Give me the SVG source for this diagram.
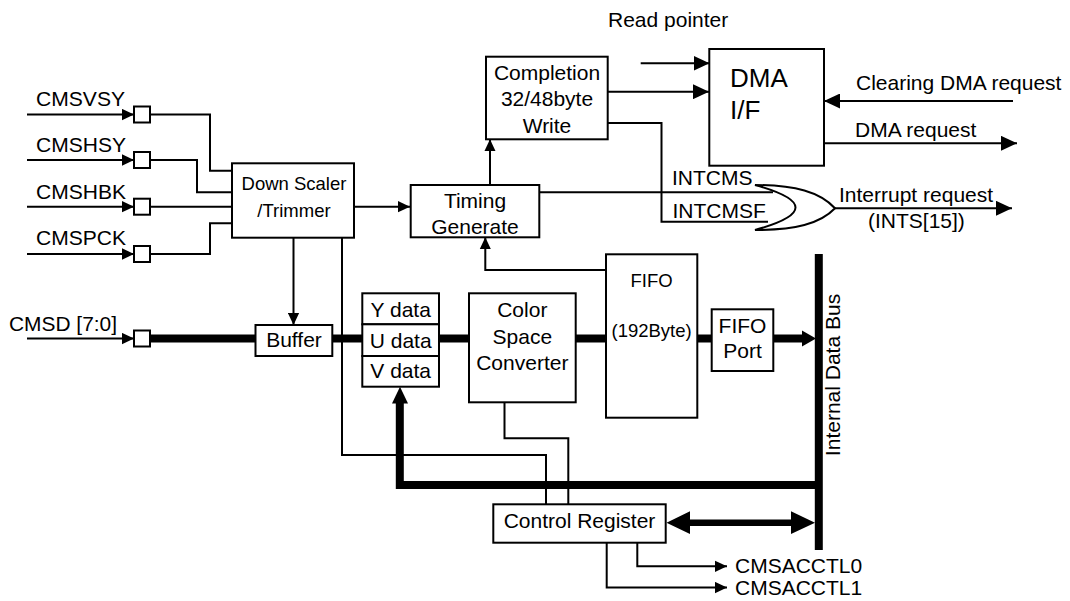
<svg xmlns="http://www.w3.org/2000/svg" width="1070" height="601" viewBox="0 0 1070 601">
<style>
.box{fill:#fff;stroke:#000;stroke-width:2}
.ln{fill:none;stroke:#000;stroke-width:2}
.bus{fill:none;stroke:#000;stroke-width:8}
text{font-family:"Liberation Sans",Arial,sans-serif;font-size:21px;fill:#000}
.m{text-anchor:middle}
.s{font-size:18.5px}
.big{font-size:26px}
</style>
<defs>
<marker id="a" markerUnits="userSpaceOnUse" markerWidth="12" markerHeight="12" refX="10" refY="5" orient="auto" viewBox="0 0 10 10"><path d="M0,0.3L10,5L0,9.7Z" fill="#000"/></marker>
<marker id="A" markerUnits="userSpaceOnUse" markerWidth="16" markerHeight="15" refX="16" refY="7.5" orient="auto" viewBox="0 0 16 15"><path d="M0,0L16,7.5L0,15Z" fill="#000"/></marker>
</defs>

<g id="connectors">
<!-- inputs -->
<path class="ln" d="M27,114.5H134" marker-end="url(#a)"/>
<path class="ln" d="M27,160H134" marker-end="url(#a)"/>
<path class="ln" d="M27,206.7H134" marker-end="url(#a)"/>
<path class="ln" d="M27,254H134" marker-end="url(#a)"/>
<path class="ln" d="M27,338.5H134" marker-end="url(#a)"/>
<path class="ln" d="M150,114.5H210V170.7H232"/>
<path class="ln" d="M150,160H197V192.3H232"/>
<path class="ln" d="M150,206.7H232"/>
<path class="ln" d="M150,254H210V223.3H232"/>
<!-- down scaler -->
<path class="ln" d="M354,206.7H410" marker-end="url(#a)"/>
<path class="ln" d="M293.5,238V325" marker-end="url(#a)"/>
<path class="ln" d="M342,238V455H546V504.3"/>
<!-- data bus -->
<path class="bus" d="M150,338.5H255.5"/>
<path class="bus" d="M332.3,338.5H362.3"/>
<path class="bus" d="M439,338.5H469"/>
<path class="bus" d="M575.7,338.5H606"/>
<path class="bus" d="M697.3,338.5H711.7"/>
<path class="bus" d="M773.3,338.5H803"/>
<path d="M802,330.5L816,338.5L802,346.5Z" fill="#000"/>
<path class="bus" d="M818.8,254V550" stroke-width="7.5"/>
<path class="bus" d="M818.8,485H399.8V401" stroke-width="7.5"/>
<path d="M392,403.5H408L400,386.7Z" fill="#000"/>
<!-- fifo to timing -->
<path class="ln" d="M606,270H485.3V237.3" marker-end="url(#a)"/>
<!-- timing -->
<path class="ln" d="M490,185V139.3" marker-end="url(#a)"/>
<path class="ln" d="M539.3,192.3H773"/>
<!-- completion -->
<path class="ln" d="M607.7,91.7H709" marker-end="url(#A)"/>
<path class="ln" d="M640.7,63.3H709.5" marker-end="url(#A)"/>
<path class="ln" d="M607.7,123H661.5V221.7H768"/>
<!-- dma -->
<path class="ln" d="M1013,101H824" marker-end="url(#A)"/>
<path class="ln" d="M824,143.3H1017" marker-end="url(#A)"/>
<!-- interrupt -->
<path class="ln" d="M835,208.3H1012" marker-end="url(#A)"/>
<!-- csc to control -->
<path class="ln" d="M504.5,402.3V438.3H568.3V504.3"/>
<!-- control register -->
<path d="M666.5,522.7L690,511.3V519.5H791V511.3L815,522.7L791,534V525.9H690V534Z" fill="#000"/>
<path class="ln" d="M637.3,542.7V566.3H727" marker-end="url(#a)"/>
<path class="ln" d="M606.7,542.7V587.5H727" marker-end="url(#a)"/>
</g>

<g id="in-squares">
<rect class="box" x="134" y="106.5" width="16" height="16"/>
<rect class="box" x="134" y="152" width="16" height="16"/>
<rect class="box" x="134" y="198.7" width="16" height="16"/>
<rect class="box" x="134" y="246" width="16" height="16"/>
<rect class="box" x="134" y="330.5" width="16" height="16"/>
</g>
<g id="labels-in">
<text x="36" y="106" textLength="89" lengthAdjust="spacingAndGlyphs">CMSVSY</text>
<text x="36" y="152" textLength="90" lengthAdjust="spacingAndGlyphs">CMSHSY</text>
<text x="36" y="198.5" textLength="90" lengthAdjust="spacingAndGlyphs">CMSHBK</text>
<text x="36" y="245" textLength="90" lengthAdjust="spacingAndGlyphs">CMSPCK</text>
<text x="9" y="331" textLength="108" lengthAdjust="spacingAndGlyphs">CMSD [7:0]</text>
</g>

<g id="down-scaler">
<rect class="box" x="232" y="163.3" width="122" height="74.4"/>
<text class="m s" x="294" y="190">Down Scaler</text>
<text class="m s" x="294" y="216.7">/Trimmer</text>
</g>

<g id="buffer">
<rect class="box" x="255.5" y="325" width="76.8" height="31"/>
<text class="m" x="294" y="347.3">Buffer</text>
</g>

<g id="yuv-data">
<rect class="box" x="362.3" y="293.3" width="76.7" height="31"/>
<rect class="box" x="362.3" y="324.3" width="76.7" height="31.7"/>
<rect class="box" x="362.3" y="356" width="76.7" height="30.7"/>
<text class="m" x="400.7" y="317.3">Y data</text>
<text class="m" x="400.7" y="347.5">U data</text>
<text class="m" x="400.7" y="378.3">V data</text>
</g>

<g id="color-space-converter">
<rect class="box" x="469" y="293.3" width="106.7" height="109"/>
<text class="m" x="522.3" y="317">Color</text>
<text class="m" x="522.3" y="343.5">Space</text>
<text class="m" x="522.3" y="370">Converter</text>
</g>

<g id="fifo">
<rect class="box" x="606" y="254.3" width="91.3" height="163.4"/>
<text class="m s" x="651.6" y="286.7">FIFO</text>
<text class="m s" x="651.6" y="336.7">(192Byte)</text>
</g>

<g id="fifo-port">
<rect class="box" x="711.7" y="309.3" width="61.6" height="61.7"/>
<text class="m" x="742.5" y="333.3">FIFO</text>
<text class="m" x="742.5" y="358.3">Port</text>
</g>

<g id="timing-generate">
<rect class="box" x="410.7" y="185" width="128.6" height="52.3"/>
<text class="m" x="475" y="208.3">Timing</text>
<text class="m" x="475" y="234">Generate</text>
</g>

<g id="completion">
<rect class="box" x="486" y="56.7" width="121.7" height="82.6"/>
<text class="m" x="547" y="80">Completion</text>
<text class="m" x="547" y="106">32/48byte</text>
<text class="m" x="547" y="132.5">Write</text>
</g>

<g id="dma-if">
<rect class="box" x="709.3" y="49" width="114.7" height="116.7"/>
<text class="big" x="730" y="86.7">DMA</text>
<text class="big" x="730" y="119.3">I/F</text>
</g>

<g id="or-gate">
<path class="box" d="M755,185C795,185 820,192 835,208.3C820,224 795,230 755,230Q836,207.5 755,185Z"/>
</g>

<g id="control-register">
<rect class="box" x="493.3" y="504.3" width="172.4" height="38.4"/>
<text class="m" x="579.5" y="528.3">Control Register</text>
</g>

<g id="labels">
<text x="608" y="26.7">Read pointer</text>
<text x="856" y="90">Clearing DMA request</text>
<text x="855" y="136.7">DMA request</text>
<text x="672" y="185">INTCMS</text>
<text x="672.5" y="218.3">INTCMSF</text>
<text x="839" y="202.3">Interrupt request</text>
<text x="868" y="228.3">(INTS[15])</text>
<text x="735" y="573.3">CMSACCTL0</text>
<text x="735" y="594.5">CMSACCTL1</text>
<text class="m" transform="translate(840,375) rotate(-90)">Internal Data Bus</text>
</g>
</svg>
